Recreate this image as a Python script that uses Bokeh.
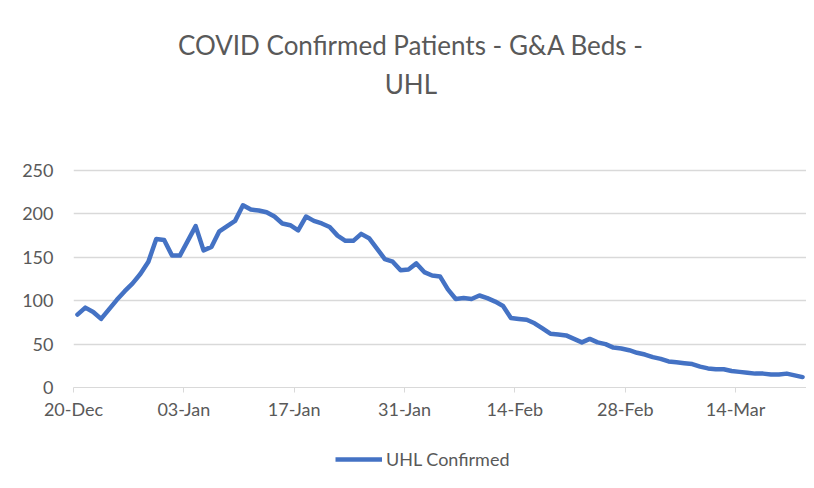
from bokeh.plotting import figure
from bokeh.layouts import column
from bokeh.models import FixedTicker, Label, Legend, LegendItem, ColumnDataSource
from bokeh.embed import file_html
from bokeh.resources import INLINE
import numpy as np

title_line1 = "COVID Confirmed Patients - G&A Beds -"
title_line2 = "UHL"
series_name = "UHL Confirmed"

tick_days = [0, 14, 28, 42, 56, 70, 84]
tick_labels = ["20-Dec", "03-Jan", "17-Jan", "31-Jan", "14-Feb", "28-Feb", "14-Mar"]
y_ticks = [0, 50, 100, 150, 200, 250]

# daily values from 20-Dec to 22-Mar
uhl_confirmed = [
    84, 92, 87, 79, 90, 101, 111, 120, 131, 145,
    171, 170, 152, 152, 169, 186, 158, 162, 180, 186,
    192, 210, 205, 204, 202, 197, 189, 187, 181, 197,
    192, 189, 185, 175, 169, 169, 177, 172, 160, 148,
    145, 135, 136, 143, 133, 129, 128, 113, 102, 103,
    102, 106, 103, 99, 94, 80, 79, 78, 74, 68,
    62, 61, 60, 56, 52, 56, 52, 50, 46, 45,
    43, 40, 38, 35, 33, 30, 29, 28, 27, 24,
    22, 21, 21, 19, 18, 17, 16, 16, 15, 15,
    16, 14, 12,
]

x = np.arange(len(uhl_confirmed)) + 0.5
src = ColumnDataSource(data=dict(x=x, y=uhl_confirmed))

FONT = "Lato"
GREY = "#595959"
BLUE = "#4472C4"

W = 806
FRAME_BOTTOM = 387          # page y of the value 0
MAIN_H = 430
LEG_H = 50
Y_TOP = 445.9               # data value at the top edge of the canvas
PX_PER_UNIT = FRAME_BOTTOM / Y_TOP

p = figure(width=W, height=MAIN_H, output_backend="svg", toolbar_location=None,
           x_range=(0, len(uhl_confirmed)), y_range=(0, Y_TOP),
           min_border_left=73, min_border_right=0, min_border_top=0,
           min_border_bottom=MAIN_H - FRAME_BOTTOM)
p.outline_line_color = None
p.title.visible = False

r = p.line("x", "y", source=src, line_color=BLUE, line_width=4.5,
           line_join="round", line_cap="round")

# axes
p.xaxis.ticker = FixedTicker(ticks=tick_days)
p.xaxis.major_label_overrides = {d: l for d, l in zip(tick_days, tick_labels)}
p.xaxis.axis_line_color = "#d9d9d9"
p.xaxis.major_tick_line_color = "#d9d9d9"
p.xaxis.major_tick_out = 5
p.xaxis.major_tick_in = 0
p.xaxis.minor_tick_line_color = None
p.xaxis.major_label_standoff = 5

p.yaxis.ticker = FixedTicker(ticks=y_ticks)
p.yaxis.axis_line_color = None
p.yaxis.major_tick_line_color = None
p.yaxis.minor_tick_line_color = None
p.yaxis.major_label_standoff = 14

for ax in (p.xaxis[0], p.yaxis[0]):
    ax.major_label_text_font = FONT
    ax.major_label_text_font_size = "18px"
    ax.major_label_text_color = GREY

p.xgrid.grid_line_color = None
p.ygrid.grid_line_color = "#d9d9d9"
p.ygrid.grid_line_width = 1.5
p.ygrid.ticker = FixedTicker(ticks=y_ticks[1:])

# title (two lines), placed in the upper part of the frame
t1 = Label(x=42.8, y=(FRAME_BOTTOM - 44) / PX_PER_UNIT, text=title_line1,
           text_align="center", text_baseline="middle", text_font=FONT,
           text_font_size="26px", text_color=GREY)
t2 = Label(x=42.8, y=(FRAME_BOTTOM - 83) / PX_PER_UNIT, text=title_line2,
           text_align="center", text_baseline="middle", text_font=FONT,
           text_font_size="26px", text_color=GREY)
p.add_layout(t1)
p.add_layout(t2)

# legend strip below the chart; its own ranges keep the sample line out of view
q = figure(width=W, height=LEG_H, output_backend="svg", toolbar_location=None,
           x_range=(-20, -10), y_range=(-20, -10),
           x_axis_location=None, y_axis_location=None,
           min_border_left=0, min_border_right=0, min_border_top=0,
           min_border_bottom=0)
q.outline_line_color = None
q.title.visible = False
q.xgrid.grid_line_color = None
q.ygrid.grid_line_color = None
r_leg = q.line("x", "y", source=src, line_color=BLUE, line_width=4.5)

legend = Legend(items=[LegendItem(label=series_name, renderers=[r_leg])],
                orientation="horizontal", location=(262, 10),
                glyph_width=47, glyph_height=20, label_text_font=FONT,
                label_text_font_size="18px", label_text_color=GREY,
                border_line_color=None, background_fill_alpha=0,
                margin=0, padding=5, label_standoff=4)
q.add_layout(legend)

layout = column(p, q, spacing=0)
open("out.html", "w").write(file_html(layout, INLINE))
